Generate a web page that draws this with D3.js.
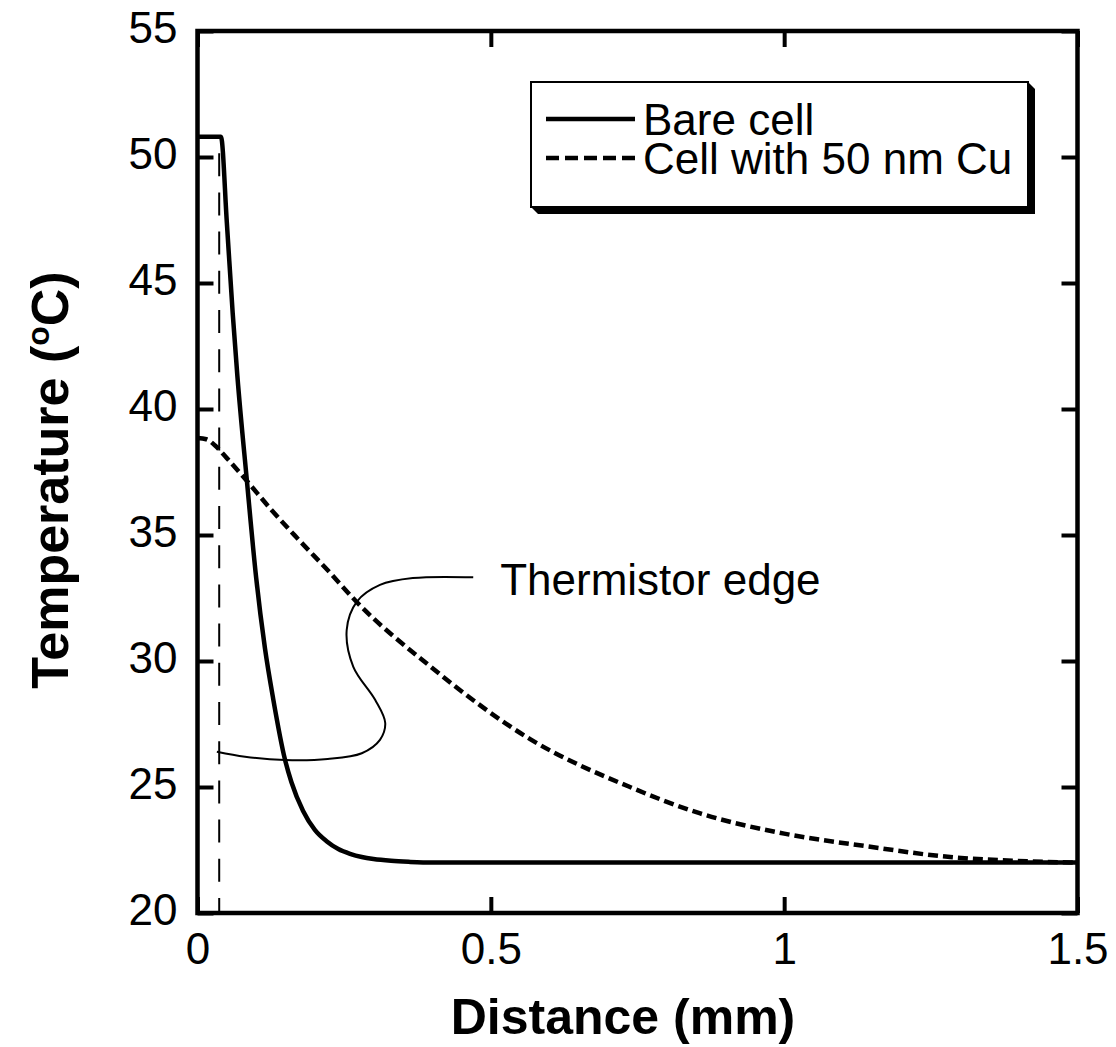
<!DOCTYPE html>
<html>
<head>
<meta charset="utf-8">
<script src="https://cdn.jsdelivr.net/npm/d3@7"></script>
<style>
  html, body { margin: 0; padding: 0; background: #fff; }
  svg { display: block; }
  text { font-family: "Liberation Sans", Arial, Helvetica, sans-serif; fill: #000; }
</style>
</head>
<body>
<svg id="chart" width="1116" height="1047"></svg>
<script>
// Temperature profile along the cell (distance in mm, temperature in °C)
const bareCell = [
  [0, 50.8], [0.040, 50.8], [0.050, 47.4], [0.060, 43.8], [0.068, 41.3],
  [0.084, 37.2], [0.100, 33.3], [0.115, 30.5], [0.129, 28.5], [0.149, 26.1],
  [0.160, 25.2], [0.180, 24.05], [0.200, 23.3], [0.220, 22.85], [0.240, 22.54],
  [0.260, 22.35], [0.280, 22.22], [0.300, 22.14], [0.330, 22.07], [0.360, 22.03],
  [0.400, 22.0], [0.80, 22.0], [1.20, 22.0], [1.50, 22.0]
];
const cellWithCu = [
  [0, 38.85], [0.015, 38.8], [0.030, 38.55], [0.050, 38.05], [0.084, 37.15],
  [0.124, 36.05], [0.169, 34.9], [0.226, 33.5], [0.271, 32.35], [0.396, 29.8],
  [0.567, 26.9], [0.737, 25.0], [0.857, 23.95], [1.000, 23.15], [1.140, 22.65],
  [1.283, 22.22], [1.420, 22.05], [1.500, 22.0]
];
// Thermistor edge position and its callout
const thermistorEdge = 0.037;
const thermistorTop = 50.15;
const calloutPath = [
  [0.033, 26.40], [0.081, 26.20], [0.149, 26.07], [0.222, 26.11], [0.280, 26.34],
  [0.311, 26.87], [0.320, 27.54], [0.303, 28.45], [0.2656, 29.77], [0.2543, 31.23],
  [0.2714, 32.35], [0.311, 33.02], [0.367, 33.29], [0.470, 33.32]
];
const calloutLabel = "Thermistor edge";
const calloutAnchor = [0.516, 32.6];

const xTicks = [0, 0.5, 1, 1.5];
const xTickLabels = ["0", "0.5", "1", "1.5"];
const yTicks = [20, 25, 30, 35, 40, 45, 50, 55];
const yTickLabels = ["20", "25", "30", "35", "40", "45", "50", "55"];
const seriesNames = ["Bare cell", "Cell with 50 nm Cu"];

const svg = d3.select("#chart");
const plotLeft = 197.5, plotRight = 1077.5, plotTop = 31, plotBottom = 913;

const x = d3.scaleLinear().domain([0, 1.5]).range([plotLeft, plotRight]);
const y = d3.scaleLinear().domain([20, 55]).range([plotBottom, plotTop]);

const font = "Liberation Sans, Arial, Helvetica, sans-serif";

// Curves
const line = d3.line().x(d => x(d[0])).y(d => y(d[1])).curve(d3.curveMonotoneX);

svg.append("path").datum(cellWithCu)
  .attr("d", line).attr("fill", "none").attr("stroke", "#000")
  .attr("stroke-width", 4.5).attr("stroke-dasharray", "10,5");

svg.append("path").datum(bareCell)
  .attr("d", line).attr("fill", "none").attr("stroke", "#000")
  .attr("stroke-width", 4.5).attr("stroke-linejoin", "round");

// Thermistor edge marker
svg.append("line")
  .attr("x1", x(thermistorEdge)).attr("x2", x(thermistorEdge))
  .attr("y1", y(thermistorTop)).attr("y2", y(20))
  .attr("stroke", "#000").attr("stroke-width", 2)
  .attr("stroke-dasharray", "23,16.2");

const callout = d3.line().x(d => x(d[0])).y(d => y(d[1])).curve(d3.curveCatmullRom.alpha(0.5));
svg.append("path").datum(calloutPath)
  .attr("d", callout).attr("fill", "none").attr("stroke", "#000").attr("stroke-width", 2);

svg.append("text")
  .attr("x", x(calloutAnchor[0])).attr("y", y(calloutAnchor[1]))
  .attr("font-size", 44).text(calloutLabel);

// Frame and ticks
const axisW = 4.5, tickLen = 16;
svg.append("rect")
  .attr("x", plotLeft).attr("y", plotTop)
  .attr("width", plotRight - plotLeft).attr("height", plotBottom - plotTop)
  .attr("fill", "none").attr("stroke", "#000").attr("stroke-width", axisW);

const gxb = svg.append("g").attr("transform", `translate(0,${plotBottom})`)
  .call(d3.axisBottom(x).tickValues(xTicks).tickSize(-tickLen).tickFormat((d, i) => xTickLabels[i]));
const gxt = svg.append("g").attr("transform", `translate(0,${plotTop})`)
  .call(d3.axisTop(x).tickValues(xTicks).tickSize(-tickLen).tickFormat(""));
const gyl = svg.append("g").attr("transform", `translate(${plotLeft},0)`)
  .call(d3.axisLeft(y).tickValues(yTicks).tickSize(-tickLen).tickFormat((d, i) => yTickLabels[i]));
const gyr = svg.append("g").attr("transform", `translate(${plotRight},0)`)
  .call(d3.axisRight(y).tickValues(yTicks).tickSize(-tickLen).tickFormat(""));

[gxb, gxt, gyl, gyr].forEach(g => {
  g.select(".domain").remove();
  g.selectAll(".tick line").attr("stroke", "#000").attr("stroke-width", 4);
});

gxb.selectAll(".tick text")
  .attr("font-family", font).attr("font-size", 44).attr("fill", "#000")
  .attr("y", 964 - plotBottom).attr("dy", null);
gyl.selectAll(".tick text")
  .attr("font-family", font).attr("font-size", 44).attr("fill", "#000")
  .attr("x", -20).attr("dy", 11);

// Axis titles
svg.append("text")
  .attr("x", 623).attr("y", 1034).attr("text-anchor", "middle")
  .attr("font-size", 50).attr("font-weight", "bold").text("Distance (mm)");

const yTitle = svg.append("text")
  .attr("transform", "translate(68,480) rotate(-90)")
  .attr("text-anchor", "middle").attr("font-size", 52).attr("font-weight", "bold");
yTitle.append("tspan").text("Temperature (");
yTitle.append("tspan").attr("font-size", 32).attr("dy", -19).text("o");
yTitle.append("tspan").attr("dy", 19).text("C)");

// Legend with drop shadow
const lg = { x0: 531, y0: 82, x1: 1028, y1: 207, off: 7 };
svg.append("path")
  .attr("d", `M${lg.x1},${lg.y0} L${lg.x1 + lg.off},${lg.y0 + lg.off} L${lg.x1 + lg.off},${lg.y1 + lg.off} ` +
             `L${lg.x0 + lg.off},${lg.y1 + lg.off} L${lg.x0},${lg.y1} Z`)
  .attr("fill", "#000");
svg.append("rect")
  .attr("x", lg.x0).attr("y", lg.y0).attr("width", lg.x1 - lg.x0).attr("height", lg.y1 - lg.y0)
  .attr("fill", "#fff").attr("stroke", "#000").attr("stroke-width", 2);

const legendRows = [
  { name: seriesNames[0], dash: null, y: 119 },
  { name: seriesNames[1], dash: "13,6", y: 158 }
];
legendRows.forEach(r => {
  svg.append("line")
    .attr("x1", 546).attr("x2", 635).attr("y1", r.y).attr("y2", r.y)
    .attr("stroke", "#000").attr("stroke-width", 4.5)
    .attr("stroke-dasharray", r.dash);
  svg.append("text")
    .attr("x", 643).attr("y", r.y + 16).attr("font-size", 44).text(r.name);
});
</script>
</body>
</html>
